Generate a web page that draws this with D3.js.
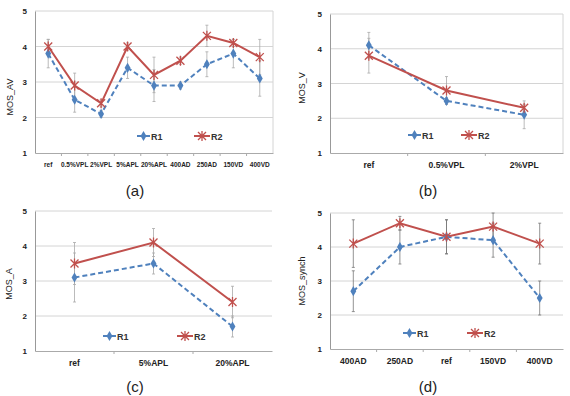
<!DOCTYPE html>
<html>
<head>
<meta charset="utf-8">
<script src="https://cdn.jsdelivr.net/npm/d3@7"></script>
<style>
  body { margin: 0; background: #fff; }
  svg { display: block; font-family: "Liberation Sans", Arial, sans-serif; }
</style>
</head>
<body>
<div class="canva"></div>
<script>
// panel (a)
const catsA = ["ref", "0.5%VPL", "2%VPL", "5%APL", "20%APL", "400AD", "250AD", "150VD", "400VD"];
const r1A = [3.8, 2.5, 2.1, 3.4, 2.9, 2.9, 3.5, 3.8, 3.1];
const r2A = [4.0, 2.9, 2.4, 4.0, 3.2, 3.6, 4.3, 4.1, 3.7];
const e1A = [0.4, 0.35, 0.1, 0.3, 0.45, 0.1, 0.35, 0.4, 0.5];
const e2A = [0.2, 0.35, 0.1, 0.1, 0.5, 0.1, 0.3, 0.1, 0.5];
// panel (b)
const catsB = ["ref", "0.5%VPL", "2%VPL"];
const r1B = [4.1, 2.5, 2.1];
const r2B = [3.8, 2.8, 2.3];
const e1B = [0.37, 0.1, 0.4];
const e2B = [0.5, 0.4, 0.1];
// panel (c)
const catsC = ["ref", "5%APL", "20%APL"];
const r1C = [3.1, 3.5, 1.7];
const r2C = [3.5, 4.1, 2.4];
const e1C = [0.7, 0.3, 0.3];
const e2C = [0.6, 0.4, 0.45];
// panel (d)
const catsD = ["400AD", "250AD", "ref", "150VD", "400VD"];
const r1D = [2.7, 4.0, 4.3, 4.2, 2.5];
const r2D = [4.1, 4.7, 4.3, 4.6, 4.1];
const e1D = [0.6, 0.5, 0.5, 0.5, 0.5];
const e2D = [0.7, 0.2, 0.5, 0.4, 0.6];

const yTicks = [1, 2, 3, 4, 5];
const seriesNames = ["R1", "R2"];

const blue = "#4f81bd", red = "#c0504d";

const svg = d3.select(".canva").append("svg")
  .attr("width", 570).attr("height", 396);

const panels = [
  {cats: catsA, r1: r1A, r2: r2A, e1: e1A, e2: e2A, ylab: "MOS_AV", tag: "(a)", tagX: 135, tagY: 196,
   x0: 35, x1: 273, top: 11, bot: 153, xfs: 6.5, legY: 136, leg: [137, 194], ylabX: 10, ylabY: 97, border: true, errCol: "#aaa"},
  {cats: catsB, r1: r1B, r2: r2B, e1: e1B, e2: e2B, ylab: "MOS_V", tag: "(b)", tagX: 428, tagY: 196,
   x0: 330, x1: 563, top: 14, bot: 153, xfs: 8.5, legY: 135, leg: [408, 461], ylabX: 302, ylabY: 88, border: true, errCol: "#aaa"},
  {cats: catsC, r1: r1C, r2: r2C, e1: e1C, e2: e2C, ylab: "MOS_A", tag: "(c)", tagX: 135, tagY: 392,
   x0: 35, x1: 272, top: 211, bot: 351, xfs: 8.5, legY: 336, leg: [103, 177], ylabX: 9, ylabY: 284, border: false, errCol: "#aaa"},
  {cats: catsD, r1: r1D, r2: r2D, e1: e1D, e2: e2D, ylab: "MOS_synch", tag: "(d)", tagX: 428, tagY: 392,
   x0: 330, x1: 563, top: 213, bot: 349, xfs: 8.5, legY: 333, leg: [403, 467], ylabX: 302, ylabY: 281, border: false, errCol: "#777"}
];

const diamond = d3.symbol().type(d3.symbolDiamond).size(30);

function drawStar(g, cx, cy, r) {
  g.append("path")
    .attr("d", `M${cx - r},${cy - r}L${cx + r},${cy + r}M${cx - r},${cy + r}L${cx + r},${cy - r}M${cx},${cy - r - 1}L${cx},${cy + r + 1}`)
    .attr("stroke", red).attr("stroke-width", 1.3).attr("fill", "none");
}

panels.forEach(p => {
  const g = svg.append("g");

  const x = d3.scaleBand().domain(p.cats).range([p.x0, p.x1]);
  const y = d3.scaleLinear().domain([1, 5]).range([p.bot, p.top]);

  // gridlines
  g.selectAll(".grid").data(yTicks.slice(1)).enter().append("line")
    .attr("x1", p.x0).attr("x2", p.x1)
    .attr("y1", d => y(d)).attr("y2", d => y(d))
    .attr("stroke", "#d4d4d4").attr("stroke-width", 1);
  if (p.border) {
    g.append("line").attr("x1", p.x1).attr("x2", p.x1).attr("y1", p.top).attr("y2", p.bot)
      .attr("stroke", "#d4d4d4");
  }

  // y axis
  const yAxis = d3.axisLeft(y).tickValues(yTicks).tickFormat(d3.format("d")).tickSize(0).tickPadding(8);
  const ya = g.append("g").attr("transform", `translate(${p.x0},0)`).call(yAxis);
  ya.select(".domain").attr("stroke", "#999");
  ya.selectAll("text").attr("font-size", 8).attr("font-weight", "bold").attr("fill", "#222");

  // x axis
  const xAxis = d3.axisBottom(x).tickSize(0).tickPadding(9);
  const xa = g.append("g").attr("transform", `translate(0,${p.bot})`).call(xAxis);
  xa.select(".domain").attr("stroke", "#aaa");
  xa.selectAll("text").attr("font-size", p.xfs).attr("font-weight", "bold").attr("fill", "#222");
  g.selectAll(".xt").data(p.cats.slice(1)).enter().append("line")
    .attr("x1", d => x(d)).attr("x2", d => x(d))
    .attr("y1", p.bot).attr("y2", p.bot + 3).attr("stroke", "#aaa");

  const cx = d => x(d) + x.bandwidth() / 2;

  // error bars
  [[p.r1, p.e1], [p.r2, p.e2]].forEach(([vals, errs]) => {
    p.cats.forEach((c, i) => {
      const lo = y(vals[i] - errs[i]), hi = y(vals[i] + errs[i]);
      g.append("line").attr("x1", cx(c)).attr("x2", cx(c)).attr("y1", lo).attr("y2", hi)
        .attr("stroke", p.errCol).attr("stroke-width", 0.8);
      [lo, hi].forEach(v => g.append("line").attr("x1", cx(c) - 1.5).attr("x2", cx(c) + 1.5)
        .attr("y1", v).attr("y2", v).attr("stroke", p.errCol).attr("stroke-width", 0.8));
    });
  });

  const line = d3.line().x((d, i) => cx(p.cats[i])).y(d => y(d));

  g.append("path").datum(p.r1).attr("d", line)
    .attr("fill", "none").attr("stroke", blue).attr("stroke-width", 2).attr("stroke-dasharray", "5,3");
  g.append("path").datum(p.r2).attr("d", line)
    .attr("fill", "none").attr("stroke", red).attr("stroke-width", 2);

  g.selectAll(".m1").data(p.r1).enter().append("path")
    .attr("d", diamond).attr("fill", blue)
    .attr("transform", (d, i) => `translate(${cx(p.cats[i])},${y(d)})`);
  p.r2.forEach((d, i) => drawStar(g, cx(p.cats[i]), y(d), 4));

  // legend
  const l1 = p.leg[0], l2 = p.leg[1];
  g.append("line").attr("x1", l1).attr("x2", l1 + 13).attr("y1", p.legY).attr("y2", p.legY)
    .attr("stroke", blue).attr("stroke-width", 2);
  g.append("path").attr("d", diamond).attr("fill", blue).attr("transform", `translate(${l1 + 6.5},${p.legY})`);
  g.append("text").attr("x", l1 + 14).attr("y", p.legY + 3.5).text(seriesNames[0])
    .attr("font-size", 9).attr("font-weight", "bold").attr("fill", "#333");
  g.append("line").attr("x1", l2).attr("x2", l2 + 16).attr("y1", p.legY).attr("y2", p.legY)
    .attr("stroke", red).attr("stroke-width", 2);
  drawStar(g, l2 + 8, p.legY, 4);
  g.append("text").attr("x", l2 + 17).attr("y", p.legY + 3.5).text(seriesNames[1])
    .attr("font-size", 9).attr("font-weight", "bold").attr("fill", "#333");

  // y label
  g.append("text").attr("transform", `translate(${p.ylabX},${p.ylabY}) rotate(-90)`)
    .attr("text-anchor", "middle").attr("dy", "0.35em")
    .attr("font-size", 9).attr("fill", "#222").text(p.ylab);

  // panel tag
  g.append("text").attr("x", p.tagX).attr("y", p.tagY)
    .attr("text-anchor", "middle").attr("font-size", 15).attr("fill", "#222")
    .attr("font-family", "Arial, 'Liberation Sans', sans-serif").text(p.tag);
});
</script>
</body>
</html>
